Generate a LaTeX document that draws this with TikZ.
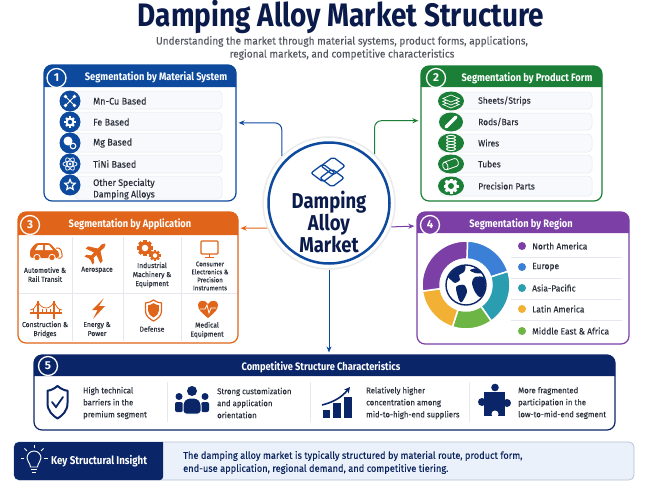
\documentclass[tikz,border=0pt]{standalone}
\usepackage{fontspec}
\setmainfont{Fira Sans}
\newfontfamily\headfont[FakeStretch=.86]{Fira Sans}
\newfontfamily\bodyfont[FakeStretch=.94,FakeBold=.12]{Fira Sans}
\usetikzlibrary{shapes.geometric,arrows.meta}

\definecolor{navy}{HTML}{0B2668}
\definecolor{titlec}{HTML}{0A1B4B}
\definecolor{matc}{HTML}{0D4A9E}
\definecolor{prodc}{HTML}{1B7F37}
\definecolor{appc}{HTML}{E0651A}
\definecolor{regc}{HTML}{7B3FA6}
\definecolor{ink}{HTML}{2A2F3A}
\definecolor{rowc}{HTML}{F7F9FC}
\definecolor{rowl}{HTML}{E5E9EF}
\definecolor{tealc}{HTML}{2B9DB0}
\definecolor{blc}{HTML}{3B7FD6}
\definecolor{yelc}{HTML}{F2B035}
\definecolor{grnc}{HTML}{6DB544}
\definecolor{insc}{HTML}{EAF1FA}

\tikzset{
  panelbox/.style={draw=#1, rounded corners=8pt, line width=1.2pt, fill=white, inner sep=0},
  rowbox/.style={draw=rowl, fill=rowc, rounded corners=4pt, line width=.5pt},
  headtxt/.style={font=\headfont\bfseries\fontsize{10.8}{12}\selectfont, text=white, inner sep=0},
  lab/.style={font=\bodyfont\fontsize{9}{11}\selectfont, text=ink, anchor=west, align=left, inner sep=0},
  applab/.style={font=\bodyfont\fontsize{7.2}{9}\selectfont, text=ink, align=center, inner sep=0},
  complab/.style={font=\bodyfont\fontsize{8.25}{12}\selectfont, text=ink, anchor=west, align=left, inner sep=0},
  flow/.style={-{Stealth[length=6pt,width=5pt]}, line width=1pt, color=#1, rounded corners=7pt, shorten >=2pt},
  seprule/.style={draw=rowl, line width=.6pt},
}

\newcommand{\gearmark}[5]{%
  \foreach \ang in {0,45,...,315}
    \draw[#4, line width=#3*.5] (#1,#2) ++(\ang:#3*.7) -- ++(\ang:#3*.55);
  \fill[#4] (#1,#2) circle (#3);
  \fill[#5] (#1,#2) circle (#3*.5);
}
\newcommand{\shieldpath}{(0,-10) .. controls (3,-8) and (6,-7) .. (8,-7) -- (8,1) .. controls (8,6) and (4,9) .. (0,11) .. controls (-4,9) and (-8,6) .. (-8,1) -- (-8,-7) .. controls (-6,-7) and (-3,-8) .. (0,-10) -- cycle}

\begin{document}
\begin{tikzpicture}[x=1pt, y=1pt, yscale=-1, >=Stealth]
\useasboundingbox (0,0) rectangle (650,487);

% title
\node (title) [font=\headfont\bfseries\fontsize{32.5}{36}\selectfont, text=titlec, inner sep=0] at (341,17) {Damping Alloy Market Structure};
\node (subtitle) [font=\bodyfont\fontsize{10.7}{13}\selectfont, text=ink!80, align=center, inner sep=0] at (342,48) {Understanding the market through material systems, product forms, applications,\\regional markets, and competitive characteristics};

% panels
\node (matpanel) [panelbox=matc, minimum width=192pt, minimum height=136pt] at (140,133) {};
\node (prodpanel) [panelbox=prodc, minimum width=181pt, minimum height=135pt] at (511.5,133.5) {};
\node (apppanel) [panelbox=appc, minimum width=220pt, minimum height=131pt] at (128,277.5) {};
\node (regpanel) [panelbox=regc, minimum width=212pt, minimum height=132pt] at (523,278) {};
\node (comppanel) [panelbox=navy, minimum width=581pt, minimum height=75pt] at (324.5,392.5) {};

% panel heads
\foreach \xa/\ya/\xb/\yb/\hc/\nr in {44/65/236/87/matc/1, 421/66/602/87/prodc/2, 18/212/238/235/appc/3, 417/212/629/233/regc/4, 34/355/615/376/navy/5}{
  \fill[\hc] (\xa,\yb) [rounded corners=8pt] -- (\xa,\ya) -- (\xb,\ya) [sharp corners] -- (\xb,\yb) -- cycle;
}
\foreach \bx/\by/\hc/\nr in {56.5/78/matc/1, 436/78/prodc/2, 30/225/appc/3, 430/225/regc/4, 48/366/navy/5}
  \node (badge\nr) [circle, draw=white, fill=\hc, line width=1.3pt, minimum size=19pt, inner sep=0, text=white, font=\bfseries\fontsize{11.5}{12}\selectfont] at (\bx,\by) {\nr};

\node (mathead) [headtxt] at (156,77) {Segmentation by Material System};
\node (prodhead) [headtxt] at (527,78) {Segmentation by Product Form};
\node (apphead) [headtxt] at (130,224) {Segmentation by Application};
\node (reghead) [headtxt] at (521,224) {Segmentation by Region};
\node (comphead) [headtxt] at (321,367) {Competitive Structure Characteristics};

% hub
\node (hub) [circle, draw=black!8, fill=white, line width=1.5pt, minimum size=132pt, inner sep=0] at (329,203) {};
\draw[matc, line width=2.5pt] (hub.center) circle (60.5);
\node (hubtxt) [font=\headfont\bfseries\fontsize{21.5}{22}\selectfont, text=titlec, align=center, inner sep=0] at (329,221.5) {Damping\\Alloy\\Market};

% hub emblem
\foreach \cx/\cy in {323/173, 333/166, 332/178}
  \draw[matc, line width=1.3pt, rounded corners=2pt] (\cx-12,\cy) -- (\cx,\cy-9) -- (\cx+12,\cy) -- (\cx,\cy+9) -- cycle;

% connectors
\draw[flow=matc] (hub.135) |- (matpanel.6.5);
\draw[flow=prodc] (hub.47) |- (prodpanel.172.8);
\draw[flow=appc] (hub.202) -- (apppanel.24.2);
\draw[flow=regc] (hub.-21.5) -- (regpanel.154.7);
\draw[flow=matc] (hub.south) -- (hub.south |- comppanel.north);

% panel 1 rows
\foreach \ya/\yb in {91/109, 112/130, 133/152, 155/173, 176/199}
  \draw[rowbox] (75,\ya) rectangle (222,\yb);
\foreach \yy in {101,122,143,164,185}
  \fill[matc] (70,\yy) circle (10.5);
\foreach \i/\yy/\txt in {1/101/Mn-Cu Based, 2/122/Fe Based, 3/143/Mg Based, 4/164/TiNi Based}
  \node (mat\i) [lab, font=\bodyfont\fontsize{9.6}{11}\selectfont] at (93,\yy) {\txt};
\node (mat5) [lab, font=\bodyfont\fontsize{9.4}{11.5}\selectfont] at (93,189) {Other Specialty\\Damping Alloys};

% panel 1 icons
\draw[white, line width=1pt] (66,97) -- (74,105) (74,97) -- (66,105);
\foreach \dx/\dy in {-4.5/-4.5, 4.5/-4.5, -4.5/4.5, 4.5/4.5}
  \fill[white] (70+\dx,101+\dy) circle (1.9);
\gearmark{70}{122}{4.5}{white}{matc}
\fill[white] (68,141) circle (4.5);
\draw[white, line width=1.1pt] (73,146) circle (2.8);
\foreach \r in {0,60,120}
  \draw[white, line width=.7pt, rotate around={\r:(70,164)}] (70,164) ellipse (7 and 2.8);
\fill[white] (70,164) circle (1.4);
\node (staricon) [star, star points=5, star point ratio=2.2, draw=white, line width=1.2pt, minimum size=11pt, inner sep=0] at (70,185) {};

% panel 2 rows
\foreach \ya/\yb in {92/109, 113/130, 134/152, 155/173, 176/196}
  \draw[rowbox] (440,\ya) rectangle (592,\yb);
\foreach \yy/\ww in {101/13, 122/12, 143/13, 164/13, 186/13}
  \fill[prodc] (451,\yy) ellipse (\ww pt and 9.5pt);
\foreach \i/\yy/\txt in {1/101/{Sheets/Strips}, 2/122/{Rods/Bars}, 3/143/Wires, 4/164/Tubes, 5/186/Precision Parts}
  \node (prod\i) [lab] at (478,\yy) {\txt};

% panel 2 icons
\foreach \dy in {3,0,-3}
  \draw[white, fill=prodc, line width=.7pt] (451,98+\dy) -- (459,101.5+\dy) -- (451,105+\dy) -- (443,101.5+\dy) -- cycle;
\draw[white, line width=3.5pt, line cap=round] (446,127) -- (456,117);
\foreach \dy in {-6,-3,...,6}
  \draw[white, line width=.9pt, fill=prodc] (451,143+\dy) ellipse (4.5 and 1.6);
\draw[white, line width=.8pt, rotate around={-20:(451,164)}] (445,160) -- (456,160) arc (-90:90:2.5 and 4) -- (445,168) arc (90:270:2.5 and 4) -- cycle;
\draw[white, line width=.8pt, rotate around={-20:(451,164)}] (445,160) arc (-90:90:2.5 and 4);
\gearmark{451}{186}{6}{white}{prodc}

% panel 3 grid
\foreach \xx in {72,123,181}
  \draw[seprule] (\xx,237) -- (\xx,341);
\draw[seprule] (19,293) -- (237,293);

% panel 3 labels
\node (app1) [applab] at (45,274.5) {Automotive \&\\Rail Transit};
\node (app2) [applab] at (97,270) {Aerospace};
\node (app3) [applab] at (152,275) {Industrial\\Machinery \&\\Equipment};
\node (app4) [applab, font=\bodyfont\fontsize{6.6}{8}\selectfont] at (210,276) {Consumer\\Electronics \&\\Precision\\Instruments};
\node (app5) [applab] at (45,329.5) {Construction \&\\Bridges};
\node (app6) [applab] at (97,329) {Energy \&\\Power};
\node (app7) [applab] at (152,329) {Defense};
\node (app8) [applab] at (207,330) {Medical\\Equipment};

% car
\draw[appc, line width=1pt, rounded corners=1.5pt] (56,248) -- (60,248) -- (62,253) -- (62,258) -- (58,258);
\fill[appc, rounded corners=2.5pt] (30,258) -- (30,250) -- (36,243) -- (50,243) -- (56,250) -- (59,252) -- (59,258) -- cycle;
\fill[white] (38,245) -- (43,245) -- (43,250) -- (35,250) -- cycle (45,245) -- (49,245) -- (53,250) -- (45,250) -- cycle;
\foreach \xx in {37,52}
  \draw[white, fill=appc, line width=.8pt] (\xx,257.5) circle (3.2);

% plane
\fill[appc, shift={(97,252)}, rotate=-45, scale=.8] (-13,-2) -- (11,-2.5) -- (15,0) -- (11,2.5) -- (-13,2) -- cycle
  (4,-2) -- (-3,-13) -- (-7,-13) -- (-3,-2) -- cycle (4,2) -- (-3,13) -- (-7,13) -- (-3,2) -- cycle
  (-8,-2) -- (-12,-7) -- (-15,-7) -- (-13,-2) -- cycle (-8,2) -- (-12,7) -- (-15,7) -- (-13,2) -- cycle;

% gears
\gearmark{145}{248}{6.5}{appc}{white}
\gearmark{155}{255.5}{4.5}{appc}{white}

% monitor
\draw[appc, line width=1.2pt, rounded corners=1pt] (201,241) rectangle (218,254);
\draw[appc, line width=1.4pt] (209.5,254) -- (209.5,257) (205,257.5) -- (214,257.5);

% bridge
\draw[appc, line width=1.6pt] (30,313) -- (62,313) (38,301) -- (38,319) (54,301) -- (54,319);
\draw[appc, line width=.8pt] (30,310) .. controls (34,309) .. (38,302) .. controls (42,310) and (50,310) .. (54,302) .. controls (58,309) .. (62,310);
\foreach \xx in {33,42,46,50,59}
  \draw[appc, line width=.5pt] (\xx,309) -- (\xx,313);

% bolt, shield, heart
\fill[appc] (104,298) -- (92,310) -- (97.5,310) -- (93,319) -- (105,306) -- (99,306) -- cycle;
\draw[appc, line width=1.2pt, shift={(153.5,310)}] \shieldpath;
\fill[appc, shift={(153.5,310)}, scale=.68] \shieldpath;
\fill[appc, shift={(208,309)}] (0,9) .. controls (-6,4) and (-10,1) .. (-10,-4) .. controls (-10,-9) and (-3,-10) .. (0,-5) .. controls (3,-10) and (10,-9) .. (10,-4) .. controls (10,1) and (6,4) .. (0,9) -- cycle;
\draw[white, line width=.8pt, shift={(208,309)}] (-8,0) -- (-3,0) -- (-1,-4) -- (1,4) -- (3,-1) -- (8,-1);

% donut
\begin{scope}[shift={(466,285)}]
\foreach \a/\b/\c in {-88/-18/blc, -18/55/tealc, 55/108/grnc, 108/172/yelc, 172/272/regc}
  \draw[white, line width=1.5pt, fill=\c] (\a:44) arc [start angle=\a, end angle=\b, radius=44] -- (\b:26) arc [start angle=\b, end angle=\a, radius=26] -- cycle;
\draw[navy, line width=1.4pt, fill=white] (0,0) circle (20);
\clip (0,0) circle (19.5);
\fill[navy] plot [smooth cycle] coordinates {(-19,-10) (-12,-17) (-1,-19) (-2,-13) (-7,-10) (-6,-5) (-11,-2) (-15,-5)};
\fill[navy] plot [smooth cycle] coordinates {(-10,2) (-2,0) (1,7) (-4,17) (-7,15)};
\fill[navy] plot [smooth cycle] coordinates {(9,-8) (19,-7) (20,7) (14,12) (9,7) (6,-2)};
\fill[navy] plot [smooth cycle] coordinates {(4,-15) (13,-17) (18,-12) (9,-12)};
\end{scope}

% region list
\foreach \yy in {257,278,299,320}
  \draw[seprule] (511,\yy) -- (622,\yy);
\foreach \i/\yy/\c/\txt in {1/246/regc/North America, 2/267/blc/Europe, 3/288/tealc/Asia-Pacific, 4/309/yelc/Latin America, 5/331/grnc/Middle East \& Africa}{
  \fill[\c] (522,\yy) circle (4);
  \node (reg\i) [lab] at (532,\yy) {\txt};
}

% panel 5
\foreach \xx in {167,310,469}
  \draw[seprule] (\xx,382) -- (\xx,422);
\node (comp1) [complab] at (83,403) {High technical\\barriers in the\\premium segment};
\node (comp2) [complab] at (217,403) {Strong customization\\and application\\orientation};
\node (comp3) [complab] at (366,403) {Relatively higher\\concentration among\\mid-to-high-end suppliers};
\node (comp4) [complab] at (518,403) {More fragmented\\participation in the\\low-to-mid-end segment};

% shield
\draw[navy, line width=2pt, line join=round, shift={(57.5,401.5)}, xscale=1.25, yscale=1.55] \shieldpath;
\draw[navy, line width=1.8pt, line cap=round] (52,402) -- (56,407) -- (63,397);

% people
\fill[navy] (192,391) circle (5) (179,396.5) circle (3.5) (205,396.5) circle (3.5);
\fill[navy, rounded corners=2pt] (175,402) rectangle (183,412) (201,402) rectangle (209,412);
\draw[white, fill=navy, line width=1pt, rounded corners=3pt] (183,414) -- (183,402) -- (187,398) -- (197,398) -- (201,402) -- (201,414) -- cycle;

% chart
\foreach \xa/\xb/\ya in {323/330/410, 333/341/403, 344/351.5/397}
  \fill[navy] (\xa,\ya) rectangle (\xb,418);
\draw[navy, line width=1.6pt, -{Stealth[length=6pt,width=6pt]}] (322,405) .. controls (334,402) and (342,397) .. (350,387);

% puzzle
\fill[navy] (484,392) rectangle (505,416);
\fill[navy] (495,387.5) circle (3.8) (507,403) circle (4) (482,402) circle (4);
\fill[white] (495,414) circle (3.5);

% insight bar
\node (insbar) [draw=navy!30, fill=insc, rounded corners=5pt, line width=.7pt, minimum width=620pt, minimum height=38pt, inner sep=0] at (324,461) {};
\fill[navy] (163,480) [rounded corners=5pt] -- (14,480) -- (14,442) [sharp corners] -- (163,442) [rounded corners=3pt] -- cycle;
\node (inshead) [headtxt, font=\headfont\bfseries\fontsize{11.3}{13}\selectfont, anchor=west] at (51,461) {Key Structural Insight};
\node (instxt) [lab, font=\bodyfont\fontsize{9.85}{13}\selectfont, text=navy!90!black, anchor=west] at (183,462.5) {The damping alloy market is typically structured by material route, product form,\\end-use application, regional demand, and competitive tiering.};

% bulb
\draw[white, line width=.9pt] (30.5,467) .. controls (30,462) and (27,462) .. (27,458) arc [start angle=180, end angle=360, radius=7] .. controls (41,462) and (38,462) .. (37.5,467) -- cycle;
\draw[white, line width=1pt] (31,469.5) -- (37,469.5) (32,472) -- (36,472);
\foreach \ang in {180,225,270,315,360}
  \draw[white, line width=.8pt] (34,458) ++(\ang:10) -- ++(\ang:3.5);
\end{tikzpicture}
\end{document}
